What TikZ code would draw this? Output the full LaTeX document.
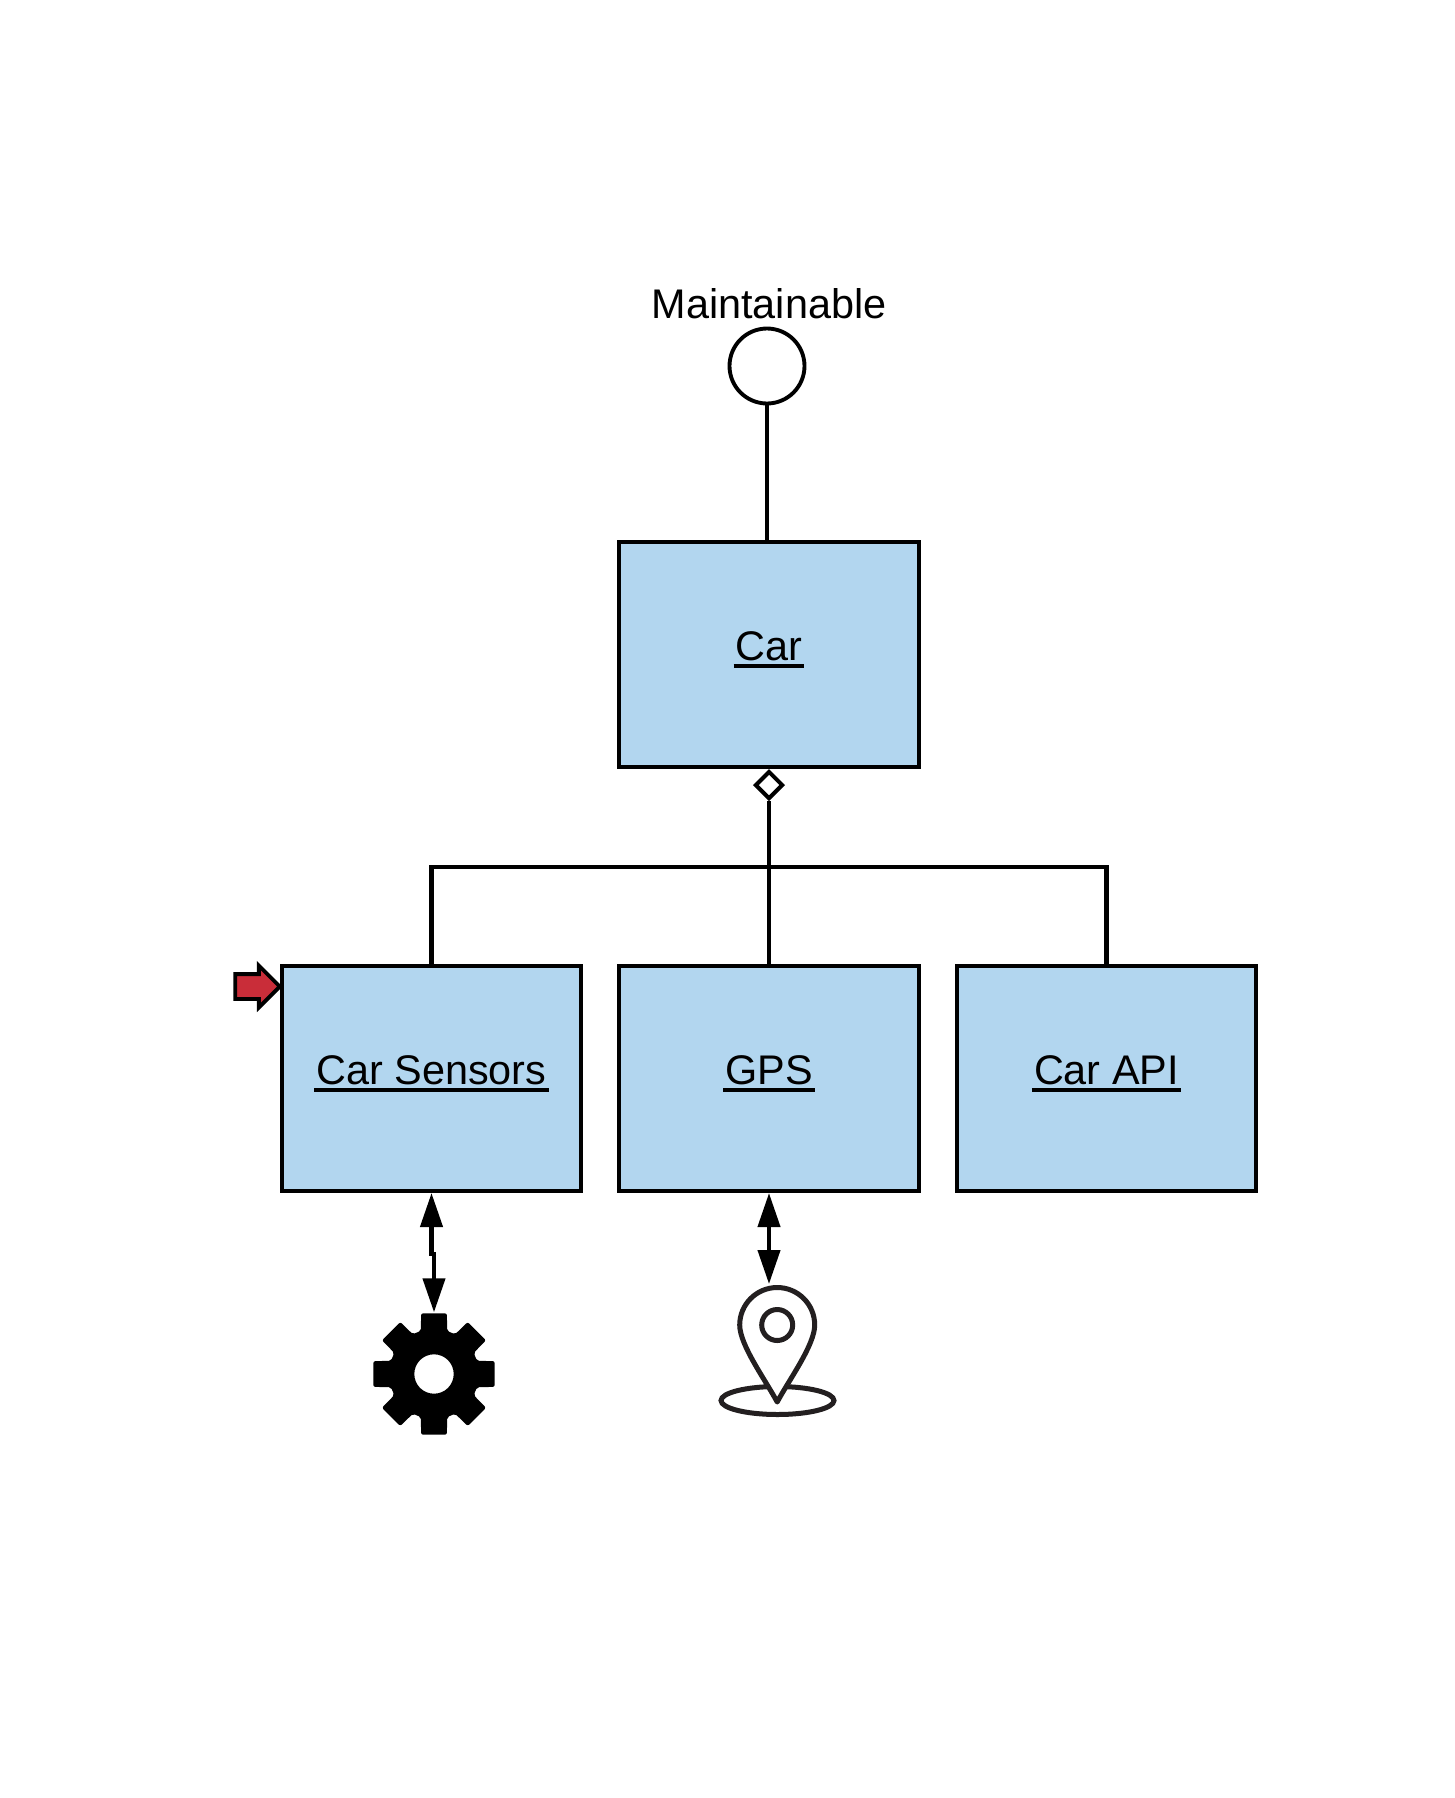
\documentclass[tikz,border=0pt]{standalone}
\usepackage{fontspec}
\setmainfont{Liberation Sans}
\usetikzlibrary{arrows.meta,positioning,shapes}
\definecolor{boxblue}{HTML}{B2D6EF}
\definecolor{markred}{HTML}{C92D39}
\definecolor{pinblack}{HTML}{231F20}
\newcommand{\ulabel}[1]{\sbox0{#1}\rlap{\hspace{-0.6pt}\rule[-2pt]{\dimexpr\wd0+1.2pt}{1.1pt}}\box0}
\tikzset{
  comp/.style={rectangle, draw, fill=boxblue, line width=1.15pt, minimum width=2.995cm, minimum height=2.25cm,
    inner sep=0pt, text height=0.29cm, text depth=0.17cm, font=\fontsize{11.78}{14}\selectfont},
  link/.style={line width=1.15pt},
  both/.style={line width=1.2pt, {Triangle[length=0.34cm,width=0.22cm]}-{Triangle[length=0.34cm,width=0.22cm]}}
}
\begin{document}
\begin{tikzpicture}
      \useasboundingbox (0,0) rectangle (14.55,-17.98);
      \node[font=\fontsize{11.78}{14}\selectfont, anchor=base] at (7.69,-3.18) (iname) {Maintainable};
      \node[circle, draw, line width=1.1pt, minimum size=0.75cm, inner sep=0pt] at (7.67,-3.66) (iface) {};
      \node[comp] at (7.69,-6.545) (car) {\ulabel{Car}};
      \node[comp] at (4.315,-10.785) (sensors) {\ulabel{Car Sensors}};
      \node[comp] at (7.69,-10.785) (gps) {\ulabel{GPS}};
      \node[comp] at (11.065,-10.785) (api) {\ulabel{Car API}};
      \node[diamond, draw, fill=white, line width=1.15pt, minimum size=0.28cm, inner sep=0pt, anchor=north] at (car.south) (aggr) {};
      \node[single arrow, draw, fill=markred, line width=1.1pt, inner sep=0.105cm, minimum height=0.445cm, minimum width=0.38cm,
        single arrow head extend=0.085cm, anchor=tip] at (2.825,-9.865) (mark) {};
      \coordinate (bus) at (7.69,-8.67);
      \coordinate (pintop) at (7.69,-12.84);
      \node[circle, minimum size=1.22cm, inner sep=0pt] at (4.34,-13.74) (gear) {};
      % gear
      \fill[even odd rule, rounded corners=0.02cm, shift={(gear.center)}] (112.5:0.45)
        \foreach \a in {90,45,0,-45,-90,-135,-180,-225} {
          -- (\a+17:0.45) -- (\a+12:0.62) -- (\a-12:0.62) -- (\a-17:0.45)
        } -- cycle (0.197,0) arc[start angle=0,end angle=360,radius=0.197];
      % pin
      \draw[pinblack, line width=0.05cm] (7.775,-14.005) ellipse [x radius=0.565cm, y radius=0.14cm];
      \draw[pinblack, fill=white, line width=0.05cm, line join=round] (7.772,-14.02)
        .. controls (7.655,-13.8) and (7.397,-13.45) .. (7.397,-13.25)
        arc[start angle=180,end angle=0,radius=0.375]
        .. controls (8.147,-13.45) and (7.889,-13.8) .. (7.772,-14.02) -- cycle;
      \draw[pinblack, line width=0.05cm] (7.772,-13.25) circle (0.155);
      \draw[link] (iface) -- (iface |- car.north);
      \draw[link] (aggr) -- (gps);
      \draw[link] (sensors.north) |- (bus) -| (api.north);
      \draw[both] (sensors.south) -- ++(0,-0.61) -| (gear.north);
      \draw[both] (gps.south) -- (pintop);
\end{tikzpicture}
\end{document}
